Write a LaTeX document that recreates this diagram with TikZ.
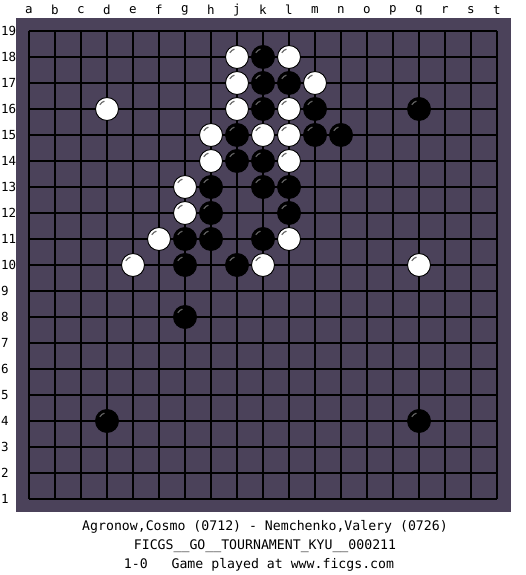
\documentclass[tikz,border=0pt]{standalone}
\usepackage{fontspec}
\setmonofont{DejaVu Sans Mono}
\definecolor{boardc}{RGB}{75,66,90}
\definecolor{hlw}{RGB}{110,110,110}
\definecolor{hlb}{RGB}{95,95,95}
\begin{document}
\begin{tikzpicture}[x=1pt,y=1pt,
  lbl/.style={font=\ttfamily\fontsize{12.5}{13}\selectfont, inner sep=0pt},
  info/.style={font=\ttfamily\fontsize{13.2}{14}\selectfont, inner sep=0pt},
  wst/.style={circle, draw=black, line width=0.9pt, fill=white, minimum size=23pt, inner sep=0pt},
  bst/.style={circle, draw=black, line width=0.9pt, fill=black, minimum size=23pt, inner sep=0pt},
  gridl/.style={line width=1.2pt, black}]
\useasboundingbox[fill=white] (0,0) rectangle (525,575);
% board
\fill[boardc] (16,63) rectangle (511,557);
\foreach \i in {0,...,18} {
  \draw[gridl] (29+26*\i,76) -- (29+26*\i,544);
  \draw[gridl] (29,50+26*\i+26) -- (497,50+26*\i+26);
}
% column labels
\foreach \l [count=\n from 0] in {a,b,c,d,e,f,g,h,j,k,l,m,n,o,p,q,r,s,t}
  \node[lbl] (col-\l) at (29+26*\n,565) {\l};
% row labels
\foreach \r in {1,...,19}
  \node[lbl, anchor=west] (row-\r) at (1,50+26*\r) {\r};
% white stones
\foreach \c/\r in {8/18,10/18,8/17,11/17,3/16,8/16,10/16,7/15,9/15,10/15,7/14,10/14,6/13,6/12,5/11,10/11,4/10,9/10,15/10} {
  \node[wst] (w-\c-\r) at (29+26*\c,50+26*\r) {};
  \draw[hlw, line width=1.2pt] ([shift={(108:8.3)}]w-\c-\r.center) arc[start angle=108, end angle=150, radius=8.3];
}
% black stones
\foreach \c/\r in {9/18,9/17,10/17,9/16,11/16,15/16,8/15,11/15,12/15,8/14,9/14,7/13,9/13,10/13,7/12,10/12,6/11,7/11,9/11,6/10,8/10,6/8,3/4,15/4} {
  \node[bst] (b-\c-\r) at (29+26*\c,50+26*\r) {};
  \draw[hlb, line width=1.2pt] ([shift={(108:8.3)}]b-\c-\r.center) arc[start angle=108, end angle=150, radius=8.3];
}
% info text
\node[info] (players) at (265,48) {Agronow,Cosmo (0712) - Nemchenko,Valery (0726)};
\node[info] (event) at (265,29) {FICGS\_\_GO\_\_TOURNAMENT\_KYU\_\_000211};
\node[info] (result) at (259,10) {1-0\ \ \ Game played at www.ficgs.com};
\end{tikzpicture}
\end{document}
